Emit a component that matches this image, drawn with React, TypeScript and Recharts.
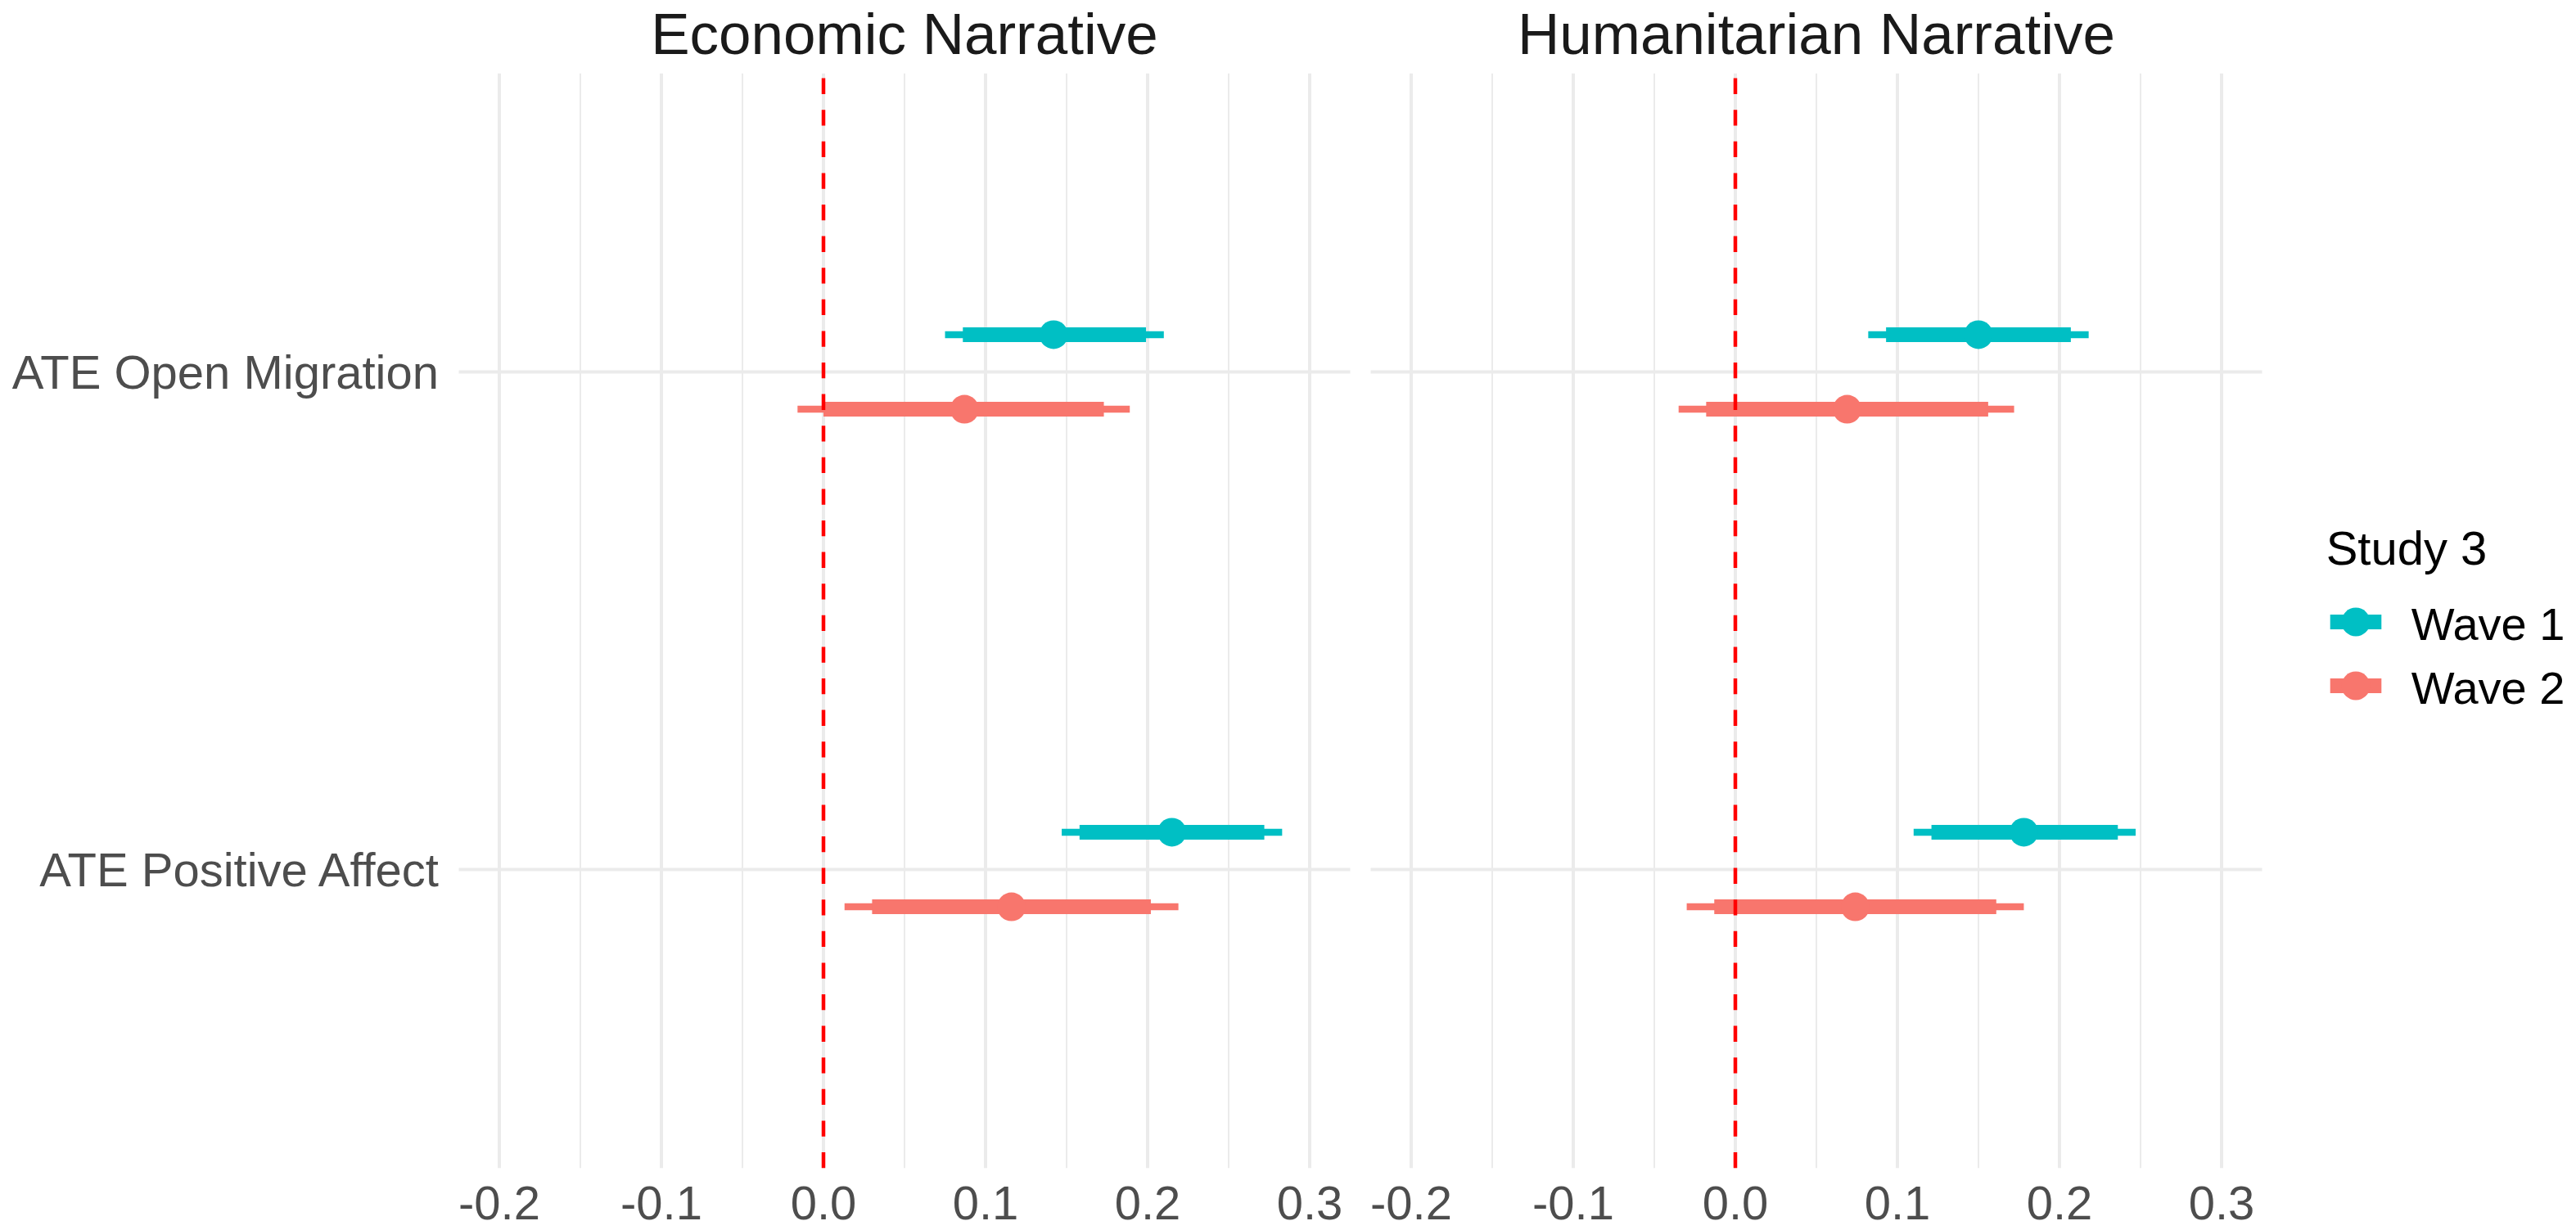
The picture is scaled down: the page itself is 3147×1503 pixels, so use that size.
import React from 'react';
import { ScatterChart, Scatter, XAxis, YAxis, CartesianGrid, ErrorBar, ReferenceLine } from 'recharts';

const W = 3147;
const H = 1503;
const FONT = '"Liberation Sans", Arial, Helvetica, sans-serif';

const outcomes = ['ATE Open Migration', 'ATE Positive Affect'];
const narratives = ['Economic Narrative', 'Humanitarian Narrative'];
const waves = ['Wave 1', 'Wave 2'];
const waveColors = ['#00BFC4', '#F8766D'];
const legendTitle = 'Study 3';

const majorTicks = [-0.2, -0.1, 0, 0.1, 0.2, 0.3];
const minorTicks = [-0.15, -0.05, 0.05, 0.15, 0.25];
const xDomain = [-0.225, 0.325];
const outcomeTicks = [1, 2];

// Economic narrative, per outcome (Open Migration, Positive Affect)
const econW1Est = [0.142, 0.215];
const econW1Lo90 = [0.086, 0.158];
const econW1Hi90 = [0.199, 0.272];
const econW1Lo95 = [0.075, 0.147];
const econW1Hi95 = [0.21, 0.283];

const econW2Est = [0.087, 0.116];
const econW2Lo90 = [0.0, 0.03];
const econW2Hi90 = [0.173, 0.202];
const econW2Lo95 = [-0.016, 0.013];
const econW2Hi95 = [0.189, 0.219];

// Humanitarian narrative
const humW1Est = [0.15, 0.178];
const humW1Lo90 = [0.093, 0.121];
const humW1Hi90 = [0.207, 0.236];
const humW1Lo95 = [0.082, 0.11];
const humW1Hi95 = [0.218, 0.247];

const humW2Est = [0.069, 0.074];
const humW2Lo90 = [-0.018, -0.013];
const humW2Hi90 = [0.156, 0.161];
const humW2Lo95 = [-0.035, -0.03];
const humW2Hi95 = [0.172, 0.178];

const DODGE = 0.075;

function makeRows(est: number[], lo90: number[], hi90: number[], lo95: number[], hi95: number[], waveIdx: number) {
  const shift = waveIdx === 0 ? -DODGE : DODGE;
  return est.map((e, i) => ({
    outcome: outcomes[i],
    pos: outcomeTicks[i] + shift,
    est: e,
    inner: [e - lo90[i], hi90[i] - e],
    outer: [e - lo95[i], hi95[i] - e],
  }));
}

const econSeries = [
  makeRows(econW1Est, econW1Lo90, econW1Hi90, econW1Lo95, econW1Hi95, 0),
  makeRows(econW2Est, econW2Lo90, econW2Hi90, econW2Lo95, econW2Hi95, 1),
];
const humSeries = [
  makeRows(humW1Est, humW1Lo90, humW1Hi90, humW1Lo95, humW1Hi95, 0),
  makeRows(humW2Est, humW2Lo90, humW2Hi90, humW2Lo95, humW2Hi95, 1),
];

const XTick = (props: any) => {
  const { x, y, payload } = props;
  return (
    <text x={x} y={y} dy="0.71em" textAnchor="middle" fontSize={58} fill="#4D4D4D" fontFamily={FONT}>
      {Number(payload.value).toFixed(1)}
    </text>
  );
};

const YTick = (props: any) => {
  const { x, y, payload } = props;
  return (
    <text x={x} y={y} dy="0.355em" textAnchor="end" fontSize={58} fill="#4D4D4D" fontFamily={FONT}>
      {outcomes[outcomeTicks.indexOf(payload.value)]}
    </text>
  );
};

const EmptyTick = () => <g />;

interface PanelProps {
  left: number;
  width: number;
  margin: { top: number; right: number; bottom: number; left: number };
  showY: boolean;
  series: ReturnType<typeof makeRows>[];
}

const Panel: React.FC<PanelProps> = ({ left, width, margin, showY, series }) => (
  <div style={{ position: 'absolute', left, top: 0 }}>
    <ScatterChart width={width} height={H} margin={margin}>
      <XAxis
        xAxisId="minor"
        type="number"
        dataKey="est"
        domain={xDomain}
        ticks={minorTicks}
        allowDataOverflow
        hide
      />
      <CartesianGrid xAxisId="minor" horizontal={false} syncWithTicks stroke="#EBEBEB" strokeWidth={2} />
      <CartesianGrid syncWithTicks stroke="#EBEBEB" strokeWidth={4} />
      <XAxis
        type="number"
        dataKey="est"
        domain={xDomain}
        ticks={majorTicks}
        allowDataOverflow
        interval={0}
        axisLine={false}
        tickLine={false}
        tickSize={0}
        tickMargin={22}
        height={75.7}
        tick={XTick}
      />
      <YAxis
        type="number"
        dataKey="pos"
        domain={[0.4, 2.6]}
        ticks={outcomeTicks}
        reversed
        allowDataOverflow
        interval={0}
        axisLine={false}
        tickLine={false}
        tickSize={0}
        tickMargin={24.5}
        width={showY ? 560.5 : 0}
        tick={showY ? YTick : EmptyTick}
      />
      {series.map((rows, w) => (
        <Scatter
          key={waves[w]}
          name={waves[w]}
          data={rows}
          fill={waveColors[w]}
          isAnimationActive={false}
          shape={(p: any) => <circle cx={p.cx} cy={p.cy} r={17.5} fill={waveColors[w]} />}
        >
          <ErrorBar dataKey="outer" direction="x" width={0} stroke={waveColors[w]} strokeWidth={8.5} isAnimationActive={false} />
          <ErrorBar dataKey="inner" direction="x" width={0} stroke={waveColors[w]} strokeWidth={18} isAnimationActive={false} />
        </Scatter>
      ))}
      <ReferenceLine x={0} stroke="#FF0000" strokeWidth={4.5} strokeDasharray="19.3 19.3" />
    </ScatterChart>
  </div>
);

export default function App() {
  const titleX = [1105, 2219];
  return (
    <div style={{ position: 'absolute', left: 0, top: 0, width: W, height: H, background: '#FFFFFF', fontFamily: FONT }}>
      <Panel
        left={0}
        width={1660}
        margin={{ top: 89.7, right: 10.5, bottom: 0, left: 0 }}
        showY
        series={econSeries}
      />
      <Panel
        left={1660}
        width={1110}
        margin={{ top: 89.7, right: 6.5, bottom: 0, left: 14.5 }}
        showY={false}
        series={humSeries}
      />
      <svg width={W} height={H} style={{ position: 'absolute', left: 0, top: 0, pointerEvents: 'none' }}>
        {narratives.map((n, i) => (
          <text key={n} x={titleX[i]} y={65.5} textAnchor="middle" fontSize={71} fill="#1A1A1A" fontFamily={FONT}>
            {n}
          </text>
        ))}
        <text x={2841.7} y={690} fontSize={58} fill="#000000" fontFamily={FONT}>
          {legendTitle}
        </text>
        {waves.map((w, i) => {
          const cy = 760 + i * 78;
          return (
            <g key={w}>
              <rect x={2846.7} y={cy - 9} width={62.6} height={18} fill={waveColors[i]} />
              <circle cx={2878} cy={cy} r={17.5} fill={waveColors[i]} />
              <text x={2945.7} y={cy + 21.5} fontSize={56} fill="#000000" fontFamily={FONT}>
                {w}
              </text>
            </g>
          );
        })}
      </svg>
    </div>
  );
}
